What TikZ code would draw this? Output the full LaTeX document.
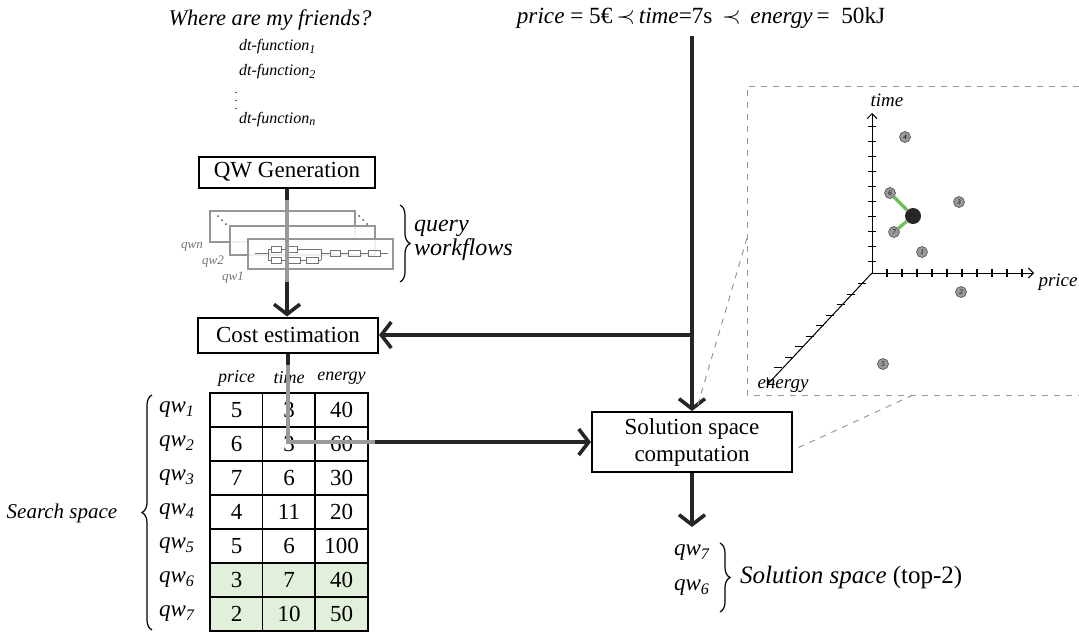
\documentclass[tikz,border=0pt]{standalone}
\usepackage{fontspec}
\setmainfont{Liberation Serif}
\usetikzlibrary{positioning,arrows.meta,decorations.pathreplacing}

\definecolor{picked}{RGB}{226,239,218}
\definecolor{linkgreen}{RGB}{110,190,90}
\definecolor{wfgray}{RGB}{150,150,150}

\newcommand{\qwsub}[1]{\textit{qw\textsubscript{#1}}}

\tikzset{
  stagebox/.style={draw, line width=1pt, fill=white, align=center,
    inner sep=0pt, font=\fontsize{11.5}{13.5}\selectfont},
  flowline/.style={line width=1.8pt, black!85},
  flowarrow/.style={flowline, -{Straight Barb[length=5pt,width=13pt]}},
  greyline/.style={line width=1.8pt, black!40},
  zoomline/.style={dashed, black!40, line width=0.5pt},
  cellbox/.style={draw, line width=0.8pt, minimum width=26.5pt,
    minimum height=17pt, inner sep=0pt, font=\fontsize{11.5}{13}\selectfont},
  bracedeco/.style={decorate, decoration={brace, amplitude=5pt}, line width=0.6pt},
  solpoint/.style={circle, draw=black!70, line width=0.3pt, fill=black!40,
    minimum size=5.5pt, inner sep=0pt, font=\fontsize{3.5}{4}\itshape\selectfont},
  wfbox/.style={draw=wfgray, line width=0.6pt, fill=white, fill opacity=0.85},
  wfline/.style={draw=black!55, line width=0.25pt}
}

\begin{document}
\begin{tikzpicture}[x=0.5pt, y=-0.5pt]
  \useasboundingbox (0,0) rectangle (1079,632);

  % request and preference
  \node (question) at (270,20) {\fontsize{11.2}{13}\selectfont\itshape Where are my friends?};
  \node[anchor=west, font=\fontsize{8}{9}\selectfont\itshape] (dt1) at (232,47) {dt-function\textsubscript{1}};
  \node[anchor=west, font=\fontsize{8}{9}\selectfont\itshape] (dt2) at (232,72) {dt-function\textsubscript{2}};
  \node[inner sep=0pt, font=\fontsize{6}{7}\selectfont] (dtdots) at (236,95) {$\vdots$};
  \node[anchor=west, font=\fontsize{8}{9}\selectfont\itshape] (dtn) at (232,120) {dt-function\textsubscript{n}};
  \node[font=\fontsize{11.6}{13}\selectfont] (prefs) at (701,18)
    {\textit{price} = 5€\,$\prec$\,\textit{time}=7s \,$\prec$\, \textit{energy}\,= \ 50kJ};

  % stages
  \node[stagebox, minimum width=88pt, minimum height=15.5pt] (qwgen) at (287,172) {QW Generation};
  \node[stagebox, minimum width=90pt, minimum height=17.5pt] (cost) at (288,335) {Cost estimation};
  \node[stagebox, minimum width=100pt, minimum height=30pt] (sol) at (692,442) {Solution space\\computation};

  % query workflow thumbnails
  \draw[wfbox] (210,211) rectangle (355,242);
  \draw[wfbox] (230,226) rectangle (375,255);
  \draw[wfbox] (248,239) rectangle (393,269);
  \foreach \dx/\dy in {218/216, 222/220, 226/224, 359/216, 363/220, 367/224}
    \fill[black!70] (\dx,\dy) circle (0.5pt);
  \draw[wfline] (255,253) -- (268,253) (268,249) -- (268,260);
  \draw[wfline] (268,249) -- (271,249) (281,249) -- (287,249) (297,249) -- (321,249);
  \draw[wfline] (268,260) -- (271,260) (281,260) -- (287,260) (300,260) -- (306,260) (318,260) -- (321,260);
  \draw[wfline] (321,249) -- (321,260) (321,253) -- (330,253) (340,253) -- (348,253)
    (360,253) -- (368,253) (380,253) -- (388,253);
  \foreach \xa/\ya/\xb/\yb in {271/246/281/252, 287/246/297/252, 271/257/281/263,
      287/257/300/263, 306/257/318/263, 330/250/340/256, 348/250/360/256, 368/250/380/256}
    \draw[wfline] (\xa,\ya) rectangle (\xb,\yb);
  \node[text=black!55, font=\fontsize{6.5}{7}\selectfont\itshape] (wfn) at (192,247) {qwn};
  \node[text=black!55, font=\fontsize{6.5}{7}\selectfont\itshape] (wf2) at (213,262) {qw2};
  \node[text=black!55, font=\fontsize{6.5}{7}\selectfont\itshape] (wf1) at (233,278) {qw1};
  \draw[bracedeco] (400,205) -- (400,282);
  \node[anchor=west, align=left, font=\fontsize{12}{12}\selectfont\itshape] (wflabel) at (407,240) {query\\workflows};

  \coordinate (wfin) at (qwgen.south |- 0,200);
  \coordinate (wfout) at (qwgen.south |- 0,282);
  \draw[flowline] (qwgen.south) -- (wfin);
  \draw[greyline] (wfin) -- (wfout);
  \draw[flowarrow] (wfout) -- (wfout |- cost.north);

  % search space table
  \node[font=\fontsize{9}{10}\selectfont\itshape] (hprice) at (236.5,378) {price};
  \node[font=\fontsize{9}{10}\selectfont\itshape] (htime) at (289,378) {time};
  \node[font=\fontsize{9}{10}\selectfont\itshape] (henergy) at (341.5,378) {energy};
  \foreach \r/\p/\t/\e/\fc in {1/5/3/40/white, 2/6/3/60/white, 3/7/6/30/white,
      4/4/11/20/white, 5/5/6/100/white, 6/3/7/40/picked, 7/2/10/50/picked} {
    \node[cellbox, fill=\fc] (p\r) at (236.5,{393+34*(\r-0.5)}) {\p};
    \node[cellbox, fill=\fc] (t\r) at (289,{393+34*(\r-0.5)}) {\t};
    \node[cellbox, fill=\fc] (e\r) at (341.5,{393+34*(\r-0.5)}) {\e};
    \node[font=\fontsize{11.5}{13}\selectfont] (qw\r) at (177,{393+34*(\r-0.5)}) {\qwsub{\r}};
  }
  \draw[bracedeco] (152,630) -- (152,395);
  \node[font=\fontsize{10.5}{12}\selectfont\itshape] (search) at (62,513) {Search space};

  % costs to solution space
  \coordinate (bendA) at (cost.south |- 0,365);
  \coordinate (bendB) at (bendA |- sol.west);
  \coordinate (bendC) at (375,442);
  \draw[flowline] (cost.south) -- (bendA);
  \draw[greyline] (bendA) -- (bendB) -- (bendC);
  \draw[flowarrow] (bendC) -- (sol.west);

  % preference flow
  \coordinate (prefdown) at (sol.north |- prefs.south);
  \coordinate (branch) at (sol.north |- cost.east);
  \draw[flowarrow] (prefdown) -- (sol.north);
  \draw[flowarrow] (branch) -- (cost.east);

  % solution space
  \node[font=\fontsize{11.5}{13}\selectfont] (sol7) at (692,553) {\qwsub{7}};
  \node[font=\fontsize{11.5}{13}\selectfont] (sol6) at (692,588) {\qwsub{6}};
  \coordinate (soltop) at (sol.south |- 0,527);
  \draw[flowarrow] (sol.south) -- (soltop);
  \draw[bracedeco] (720,543) -- (720,612);
  \node[anchor=west, font=\fontsize{12.5}{13}\selectfont] (sollabel) at (733,577) {\textit{Solution space} (top-2)};

  % zoomed solution space plot
  \draw[zoomline] (1079,86) -- (747,86) -- (747,395) -- (1079,395);
  \coordinate (zoomA) at (747,238);
  \coordinate (zoomB) at (913,395);
  \draw[zoomline] (zoomA) -- ([xshift=2pt]sol.north);
  \draw[zoomline] (zoomB) -- ([yshift=-4pt]sol.east);

  \begin{scope}[shift={(872,273)}]
    \draw[line width=0.5pt, -{Straight Barb[length=2.5pt,width=5pt]}] (0,0) -- (0,-160);
    \draw[line width=0.5pt, -{Straight Barb[length=2.5pt,width=5pt]}] (0,0) -- (162,0);
    \draw[line width=0.5pt, -{Straight Barb[length=2.5pt,width=5pt]}] (0,0) -- (-105,112);
    \foreach \k in {1,...,10} {
      \draw[line width=0.8pt] (-4,{-15*\k+3.5}) -- (4,{-15*\k+3.5});
      \draw[line width=0.8pt] ({15*\k},-4) -- ({15*\k},4);
    }
    \foreach \k in {1,...,9}
      \draw[line width=0.5pt] ({-10.4*\k-4},{10.5*\k}) -- ({-10.4*\k+4},{10.5*\k});
  \end{scope}
  \node[font=\fontsize{9.5}{10}\selectfont\itshape] (axtime) at (887,100) {time};
  \node[font=\fontsize{9.5}{10}\selectfont\itshape] (axprice) at (1058,282) {price};
  \node[font=\fontsize{9.5}{10}\selectfont\itshape] (axenergy) at (783,386) {energy};

  \node[circle, fill=black!85, minimum size=8pt, inner sep=0pt] (query) at (913,216) {};
  \foreach \n/\px/\py in {4/905/137, 6/890/193, 3/959/202, 7/894/232, 1/922/252, 2/961/292, 5/883/364}
    \node[solpoint] (pt\n) at (\px,\py) {\n};
  \draw[linkgreen, line width=1.6pt] (query) -- (pt6);
  \draw[linkgreen, line width=1.6pt] (query) -- (pt7);
\end{tikzpicture}
\end{document}
